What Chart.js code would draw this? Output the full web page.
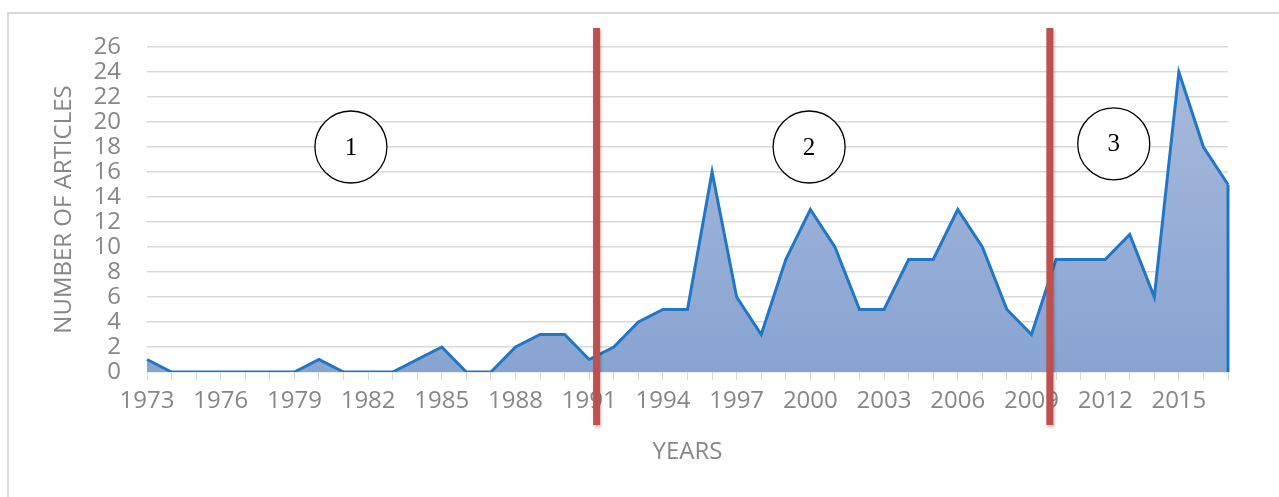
<!DOCTYPE html>
<html>
<head>
<meta charset="utf-8">
<script src="https://cdn.jsdelivr.net/npm/chart.js@4/dist/chart.umd.min.js"></script>
<style>
  html, body { margin: 0; padding: 0; background: #fff; }
  #wrap { position: relative; width: 1279px; height: 497px; }
  #frame { position: absolute; left: 7px; top: 12px; right: -4px; bottom: -4px; border: 2px solid #d9d9d9; }
  canvas { position: absolute; left: 0; top: 0; }
</style>
</head>
<body>
<div id="wrap">
  <div id="frame"></div>
  <canvas id="myChart" width="1279" height="497"></canvas>
</div>
<script>
// articles per year, 1973-2017
const years = [];
for (let y = 1973; y <= 2017; y++) years.push(String(y));

const articles = [
    1, 0, 0, 0, 0, 0, 0, 1, 0, 0,
    0, 1, 2, 0, 0, 2, 3, 3, 1, 2,
    4, 5, 5, 16, 6, 3, 9, 13, 10, 5,
    5, 9, 9, 13, 10, 5, 3, 9, 9, 9,
    11, 6, 24, 18, 15
];

// period boundaries (in years) and the numbered period markers
const dividers = [1991.3, 2009.75];
const periods = [
    { label: '1', year: 1981.3, value: 18 },
    { label: '2', year: 1999.95, value: 18 },
    { label: '3', year: 2012.35, value: 18.25 }
];

const labelColor = '#878787';
const gridColor = '#d9d9d9';
const lineColor = '#1f77c6';

// year (fractional) -> pixel on the category axis
const yearToPixel = (scale, yr) => {
    const i = yr - 1973;
    const i0 = Math.floor(i);
    const p0 = scale.getPixelForValue(i0);
    const p1 = scale.getPixelForValue(i0 + 1);
    return p0 + (p1 - p0) * (i - i0);
};

const annotations = {
    id: 'annotations',
    afterDatasetsDraw(chart) {
        const { ctx, chartArea, scales } = chart;
        ctx.save();
        // closing edge of the area at the last year
        const last = articles.length - 1;
        const xl = scales.x.getPixelForValue(last);
        ctx.strokeStyle = lineColor;
        ctx.lineWidth = 3;
        ctx.beginPath();
        ctx.moveTo(xl, scales.y.getPixelForValue(articles[last]));
        ctx.lineTo(xl, scales.y.getPixelForValue(0));
        ctx.stroke();
        // red divider lines
        dividers.forEach(d => {
            const x = yearToPixel(scales.x, d);
            ctx.shadowColor = 'rgba(0,0,0,0.25)';
            ctx.shadowBlur = 3;
            ctx.shadowOffsetX = 1;
            ctx.shadowOffsetY = 2;
            ctx.fillStyle = '#c0504d';
            ctx.fillRect(x - 3.5, chartArea.top - 19, 7, chartArea.bottom - chartArea.top + 72);
        });
        ctx.shadowColor = 'transparent';
        // circled period numbers
        periods.forEach(p => {
            const x = yearToPixel(scales.x, p.year);
            const y = scales.y.getPixelForValue(p.value);
            ctx.beginPath();
            ctx.arc(x, y, 36, 0, Math.PI * 2);
            ctx.fillStyle = '#fff';
            ctx.fill();
            ctx.lineWidth = 1.3;
            ctx.strokeStyle = '#000';
            ctx.stroke();
            ctx.fillStyle = '#000';
            ctx.font = '25px "Liberation Serif", serif';
            ctx.textAlign = 'center';
            ctx.textBaseline = 'middle';
            ctx.fillText(p.label, x, y + 1);
        });
        ctx.restore();
    }
};

const ctx = document.getElementById('myChart').getContext('2d');

const fillGradient = (context) => {
    const area = context.chart.chartArea;
    if (!area) return '#98add6';
    const g = context.chart.ctx.createLinearGradient(0, area.top, 0, area.bottom);
    g.addColorStop(0, '#aabbdc');
    g.addColorStop(1, '#88a4d1');
    return g;
};

let myChart = new Chart(ctx, {
    type: 'line',
    data: {
        labels: years,
        datasets: [{
            label: 'Articles',
            data: articles,
            borderColor: lineColor,
            borderWidth: 3,
            backgroundColor: fillGradient,
            fill: 'origin',
            pointRadius: 0,
            tension: 0
        }]
    },
    plugins: [annotations],
    options: {
        responsive: false,
        animation: false,
        events: [],
        layout: { padding: { left: 0, top: 47, right: 51, bottom: 0 } },
        plugins: {
            legend: { display: false },
            tooltip: { enabled: false }
        },
        scales: {
            x: {
                offset: false,
                border: { display: false },
                grid: {
                    drawOnChartArea: false,
                    drawTicks: true,
                    tickLength: 8,
                    color: gridColor
                },
                ticks: {
                    autoSkip: false,
                    maxRotation: 0,
                    minRotation: 0,
                    padding: 7,
                    color: labelColor,
                    font: { family: '"Open Sans"', size: 24 },
                    callback: function (val, i) {
                        return (i % 3 === 0) ? this.getLabelForValue(val) : '';
                    }
                },
                title: {
                    display: true,
                    text: 'YEARS',
                    color: labelColor,
                    font: { family: '"Open Sans"', size: 24 },
                    padding: { top: 0, bottom: 30 }
                },
                afterFit: (scale) => { scale.height = 125; }
            },
            y: {
                min: 0,
                max: 26,
                border: { display: false },
                grid: { color: gridColor, lineWidth: 1.5, drawTicks: false },
                ticks: {
                    stepSize: 2,
                    autoSkip: false,
                    padding: 26,
                    color: labelColor,
                    font: { family: '"Open Sans"', size: 24, lineHeight: 1 }
                },
                title: {
                    display: true,
                    text: 'NUMBER OF ARTICLES',
                    color: labelColor,
                    font: { family: '"Open Sans"', size: 24 },
                    padding: { top: 50, bottom: 0 }
                },
                afterFit: (scale) => { scale.width = 147; }
            }
        }
    }
});
</script>
</body>
</html>
